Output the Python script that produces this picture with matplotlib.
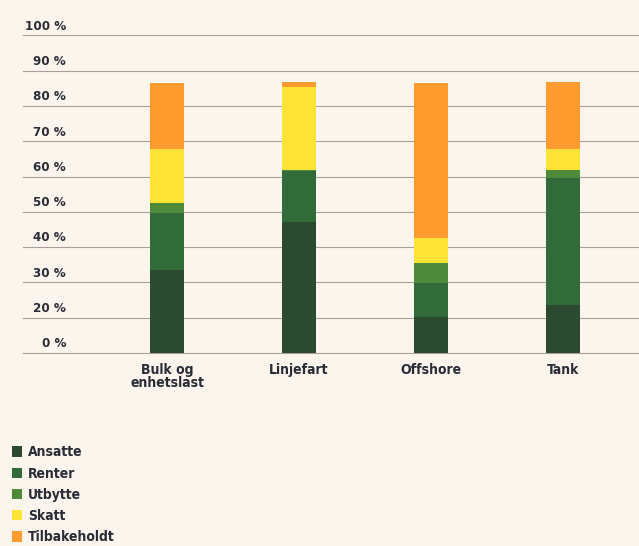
import numpy as np
import matplotlib.pyplot as plt
from matplotlib.transforms import ScaledTranslation

categories = ['Bulk og\nenhetslast', 'Linjefart', 'Offshore', 'Tank']
series_names = ['Ansatte', 'Renter', 'Utbytte', 'Skatt', 'Tilbakeholdt']
colors = ['#2c4a30', '#306b39', '#4f8a3a', '#ffe436', '#ff9b2f']

# segment heights in axis units (gridlines every 10)
ansatte = [23.6, 37.2, 10.2, 13.6]
renter = [16.2, 14.3, 9.7, 36.1]
utbytte = [2.8, 0.5, 5.7, 2.3]
skatt = [15.1, 23.4, 7.1, 5.7]
tilbakeholdt = [18.9, 1.3, 43.9, 19.0]
series = [ansatte, renter, utbytte, skatt, tilbakeholdt]

# the printed axis skips 10 %
ytick_labels = ['0 %', '20 %', '30 %', '40 %', '50 %', '60 %', '70 %', '80 %', '90 %', '100 %']

bg = '#fcf5ee'
txt = '#2a2c36'
font = dict(family='DejaVu Sans', weight='bold', stretch='condensed')

fig = plt.figure(figsize=(6.39, 5.46), dpi=100, facecolor=bg)
ax = fig.add_axes([23 / 639, 1 - 353 / 546, 1 - 23 / 639, (353 - 35.5) / 546])
ax.set_facecolor(bg)

x = np.arange(len(categories))
bottom = np.zeros(len(categories))
for name, vals, c in zip(series_names, series, colors):
    ax.bar(x, vals, bottom=bottom, width=0.258, color=c, label=name, zorder=3)
    bottom += np.array(vals)

ax.set_xlim(-1.091, 3.576)
ax.set_ylim(0, 90)

ax.set_yticks(np.arange(0, 100, 10))
ax.set_yticklabels(ytick_labels, fontsize=9.5, color=txt, va='bottom', **font)
ax.yaxis.set_tick_params(length=0, pad=-31)
off = ScaledTranslation(0, 2 / 72, fig.dpi_scale_trans)
for lab in ax.get_yticklabels():
    lab.set_transform(lab.get_transform() + off)
ax.yaxis.grid(True, color='#ad9f97', linewidth=0.8, zorder=1)
for gl in ax.get_ygridlines():
    gl.set_clip_on(False)

ax.set_xticks(x)
ax.set_xticklabels(categories, fontsize=10, color=txt, linespacing=0.95, **font)
ax.xaxis.set_tick_params(length=0, pad=7)

for s in ax.spines.values():
    s.set_visible(False)

fig.legend(loc='upper left', bbox_to_anchor=(0.008, 0.197), frameon=False,
           prop=dict(size=10, **font), labelcolor=txt, handlelength=0.75,
           handleheight=0.75, handletextpad=0.4, labelspacing=0.52, borderpad=0)

fig.savefig('out.png', dpi=100, facecolor=bg)
